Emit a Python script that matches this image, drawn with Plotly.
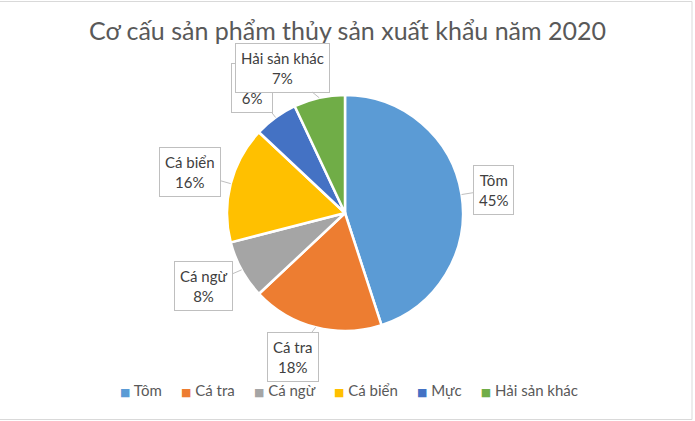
import math
import plotly.graph_objects as go

# ---- data ----
categories = ["Tôm", "Cá tra", "Cá ngừ", "Cá biển", "Mực", "Hải sản khác"]
values = [45, 18, 8, 16, 6, 7]
colors = ["#5B9BD5", "#ED7D31", "#A5A5A5", "#FFC000", "#4472C4", "#70AD47"]
title_text = "Cơ cấu sản phẩm thủy sản xuất khẩu năm 2020"

# ---- layout / style ----
W, H = 695, 421
CX, CY, R = 345, 213, 118          # pie centre & radius in px
label_r = [1.27, 1.30, 1.35, 1.36, 1.32, 1.34]   # callout distance (x radius)
label_da = [0, 5.5, 1.4, 0.4, -0.5, -10.6]       # callout angle nudge (deg)
FONT = "Lato, 'Open Sans', sans-serif"

fig = go.Figure()
fig.add_trace(go.Pie(
    labels=categories, values=values, sort=False, direction="clockwise",
    rotation=0, textinfo="none", hoverinfo="label+percent", showlegend=False,
    marker=dict(colors=colors, line=dict(color="white", width=2.5)),
    domain=dict(x=[(CX - R) / W, (CX + R) / W],
                y=[(H - CY - R) / H, (H - CY + R) / H]),
))

total = sum(values)
annotations = []
cum = 0
for i, (cat, v) in enumerate(zip(categories, values)):
    mid = (cum + v / 2) / total * 360
    cum += v
    a = math.radians(mid)
    hx, hy = CX + R * math.sin(a), CY - R * math.cos(a)
    b = math.radians(mid + label_da[i])
    bx, by = CX + R * label_r[i] * math.sin(b), CY - R * label_r[i] * math.cos(b)
    pct = round(v / total * 100)
    annotations.append(dict(
        x=hx / W, y=1 - hy / H, xref="paper", yref="paper",
        ax=bx - hx, ay=by - hy, axref="pixel", ayref="pixel",
        text=f"{cat}<br>{pct}%", showarrow=True, arrowhead=0,
        arrowwidth=1, arrowcolor="#BFBFBF", standoff=0,
        font=dict(family=FONT, size=15, color="#404040"),
        bgcolor="white", bordercolor="#BFBFBF", borderwidth=1, borderpad=5,
        align="center",
    ))

# legend line (Excel style: small square + name)
sep = "&nbsp;" * 5
legend_text = sep.join(
    f"<span style='color:{c};font-size:11px;font-family:DejaVu Sans'>■</span>&nbsp;{cat}"
    for cat, c in zip(categories, colors)
)
annotations.append(dict(
    x=349 / W, y=1 - 390 / H, xref="paper", yref="paper",
    xanchor="center", yanchor="middle", showarrow=False,
    text=legend_text, font=dict(family=FONT, size=15, color="#595959"),
))

fig.update_layout(
    width=W, height=H,
    margin=dict(l=0, r=0, t=0, b=0),
    paper_bgcolor="white", plot_bgcolor="white",
    showlegend=False,
    title=dict(text=title_text, x=0.5, xanchor="center",
               y=1 - 31 / H, yanchor="middle", yref="container",
               font=dict(family=FONT, size=25, color="#595959")),
    annotations=annotations,
    shapes=[dict(type="rect", xref="paper", yref="paper",
                 x0=-0.01, x1=692 / W, y0=1.5 / H, y1=1 - 1.5 / H,
                 line=dict(color="#D9D9D9", width=1))],
)

fig.write_html("out.html", config={"displayModeBar": False},
               post_script="document.body.style.margin='0';document.body.style.padding='0';")
